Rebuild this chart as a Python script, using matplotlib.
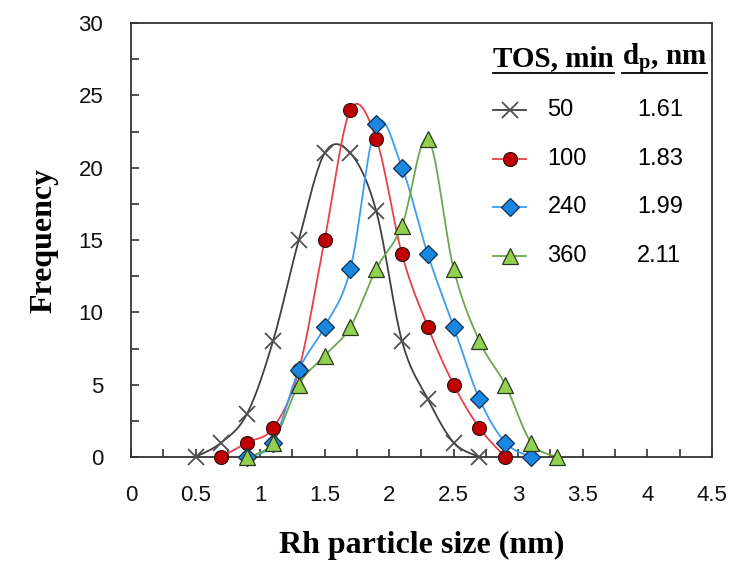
import numpy as np
import matplotlib
matplotlib.use("Agg")
import matplotlib.pyplot as plt
from matplotlib.lines import Line2D

plt.rcParams['font.family'] = ['Liberation Sans', 'DejaVu Sans']
plt.rcParams['mathtext.fontset'] = 'custom'
plt.rcParams['mathtext.rm'] = 'Liberation Serif'
plt.rcParams['mathtext.bf'] = 'Liberation Serif:bold'

# data
x50 = [0.5, 0.7, 0.9, 1.1, 1.3, 1.5, 1.7, 1.9, 2.1, 2.3, 2.5, 2.7]
y50 = [0, 1, 3, 8, 15, 21, 21, 17, 8, 4, 1, 0]
x100 = [0.7, 0.9, 1.1, 1.3, 1.5, 1.7, 1.9, 2.1, 2.3, 2.5, 2.7, 2.9]
y100 = [0, 1, 2, 6, 15, 24, 22, 14, 9, 5, 2, 0]
x240 = [0.9, 1.1, 1.3, 1.5, 1.7, 1.9, 2.1, 2.3, 2.5, 2.7, 2.9, 3.1]
y240 = [0, 1, 6, 9, 13, 23, 20, 14, 9, 4, 1, 0]
x360 = [0.9, 1.1, 1.3, 1.5, 1.7, 1.9, 2.1, 2.3, 2.5, 2.7, 2.9, 3.1, 3.3]
y360 = [0, 1, 5, 7, 9, 13, 16, 22, 13, 8, 5, 1, 0]

tos = [50, 100, 240, 360]
dp = ['1.61', '1.83', '1.99', '2.11']


def smooth(x, y, n=20):
    # Excel-style smoothed line (Catmull-Rom through the points)
    p = np.column_stack([x, y]).astype(float)
    p = np.vstack([p[0], p, p[-1]])
    out = []
    t = np.linspace(0, 1, n)[:, None]
    for i in range(1, len(p) - 2):
        p0, p1, p2, p3 = p[i - 1], p[i], p[i + 1], p[i + 2]
        c1 = p1 + (p2 - p0) / 6
        c2 = p2 - (p3 - p1) / 6
        seg = ((1 - t) ** 3) * p1 + 3 * ((1 - t) ** 2) * t * c1 + 3 * (1 - t) * t ** 2 * c2 + t ** 3 * p2
        out.append(seg)
    out = np.vstack(out)
    return out[:, 0], out[:, 1]


styles = [
    dict(line='#404040', marker='x', mfc='#606060', mec='#505050', ms=11, mew=1.3),
    dict(line='#e8404a', marker='o', mfc='#c00000', mec='#3a1010', ms=10, mew=0.9),
    dict(line='#3a9ef0', marker='D', mfc='#1a86e0', mec='#103050', ms=9, mew=0.9),
    dict(line='#6aa84f', marker='^', mfc='#92d050', mec='#2a3a20', ms=11, mew=0.9),
]
series = [(x50, y50), (x100, y100), (x240, y240), (x360, y360)]

fig = plt.figure(figsize=(7.38, 5.67), dpi=100)
ax = fig.add_axes([0.1775, 0.194, 0.787, 0.7654])

for (xs, ys), st in zip(series, styles):
    sx, sy = smooth(xs, ys)
    ax.plot(sx, sy, color=st['line'], lw=1.3, clip_on=False, zorder=2)
    ax.plot(xs, ys, ls='none', marker=st['marker'], ms=st['ms'], mfc=st['mfc'],
            mec=st['mec'], mew=st['mew'], clip_on=False, zorder=3)

ax.set_xlim(0, 4.5)
ax.set_ylim(0, 30)
ax.set_xticks(np.arange(0, 4.51, 0.5))
ax.set_xticklabels(['0', '0.5', '1', '1.5', '2', '2.5', '3', '3.5', '4', '4.5'])
ax.set_xticks(np.arange(0, 4.51, 0.25), minor=True)
ax.set_yticks(np.arange(0, 31, 5))
ax.set_yticks(np.arange(0, 31, 2.5), minor=True)
ax.tick_params(which='both', direction='in', length=6, width=1.2, color='#333333',
               labelsize=16, labelcolor='#111111')
ax.tick_params(axis='x', pad=20)
ax.tick_params(axis='y', pad=20)
for s in ax.spines.values():
    s.set_linewidth(1.3)
    s.set_color('#333333')

ax.set_xlabel('Rh particle size (nm)', fontfamily='Liberation Serif', fontweight='bold',
              fontsize=23, labelpad=18)
ax.set_ylabel('Frequency', fontfamily='Liberation Serif', fontweight='bold',
              fontsize=23, labelpad=14)

# custom table legend
hdr_kw = dict(transform=ax.transAxes, fontfamily='Liberation Serif', fontweight='bold',
              fontsize=21, va='center', ha='left')
h1 = ax.text(0.624, 0.917, 'TOS, min', **hdr_kw)
h2 = ax.text(0.845, 0.917, r'$\mathbf{d_p}$, nm', **hdr_kw)
rows = [0.799, 0.687, 0.576, 0.463]
for st, t, d, ry in zip(styles, tos, dp, rows):
    ax.add_line(Line2D([0.623, 0.680], [ry, ry], transform=ax.transAxes, color=st['line'], lw=1.3))
    ax.add_line(Line2D([0.652], [ry], transform=ax.transAxes, ls='none', marker=st['marker'],
                       ms=st['ms'], mfc=st['mfc'], mec=st['mec'], mew=st['mew']))
    ax.text(0.717, ry, str(t), transform=ax.transAxes, fontsize=17, va='center', ha='left')
    ax.text(0.871, ry, d, transform=ax.transAxes, fontsize=17, va='center', ha='left')

# underline headers
fig.canvas.draw()
inv = ax.transAxes.inverted()
for h in (h1, h2):
    bb = h.get_window_extent()
    (x0, y0), (x1, _) = inv.transform([(bb.x0, bb.y0), (bb.x1, bb.y1)])
    ax.add_line(Line2D([x0, x1], [0.884, 0.884], transform=ax.transAxes, color='black', lw=1.3))

fig.savefig('out.png', dpi=100)
